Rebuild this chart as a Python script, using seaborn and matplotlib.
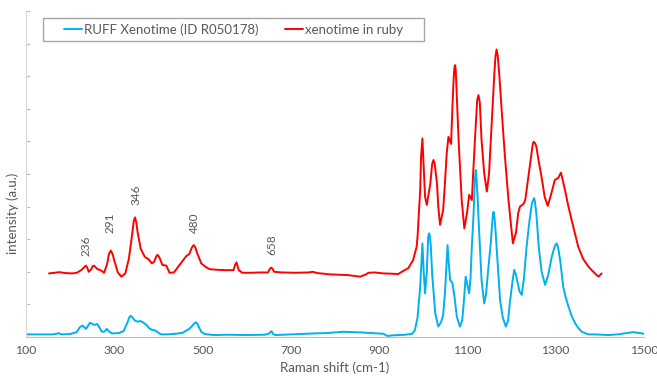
import numpy as np
import pandas as pd
import matplotlib
matplotlib.use("Agg")
import matplotlib.pyplot as plt
from matplotlib.patches import Rectangle
from matplotlib.ticker import FixedLocator
import seaborn as sns

# ---- data ----
ruff_x = [100, 130, 160, 170, 174, 180, 200, 215, 222, 228, 236, 245, 250, 255, 261, 266, 272, 278, 283, 288,
          295, 310, 321, 330, 334, 337, 340, 342, 347, 353, 359, 366, 373, 379, 385, 390, 394, 400, 406, 420, 440, 455,
          470, 480, 483, 485, 488, 490, 497, 505, 525, 560, 600, 640, 650, 656, 660, 665, 700, 753, 780, 819, 860, 895,
          909, 919, 930, 960, 975, 981, 987, 993, 998, 1001, 1004, 1008, 1011, 1013, 1015, 1017, 1020, 1027, 1034, 1040,
          1045, 1049, 1055, 1058, 1061, 1066, 1071, 1076, 1083, 1088, 1091, 1096, 1100, 1104, 1107, 1110, 1114,
          1117, 1119, 1121, 1123, 1126, 1132, 1138, 1142, 1147, 1153, 1157, 1159, 1161, 1163, 1166, 1170, 1174, 1180, 1187, 1192, 1196,
          1202, 1206, 1210, 1214, 1218, 1223, 1228, 1234, 1240, 1246, 1249, 1251, 1253, 1256, 1262, 1268, 1276, 1283, 1291,
          1297, 1300, 1302, 1304, 1306, 1310, 1317, 1323, 1329, 1336, 1344, 1351, 1359, 1374, 1389, 1405, 1420, 1440, 1460,
          1476, 1490, 1500]
ruff_y = [0.08, 0.08, 0.08, 0.10, 0.12, 0.08, 0.09, 0.15, 0.30, 0.35, 0.25, 0.44, 0.40, 0.37, 0.40, 0.30, 0.16, 0.17, 0.25, 0.17,
          0.11, 0.12, 0.18, 0.45, 0.60, 0.65, 0.62, 0.58, 0.50, 0.47, 0.49, 0.44, 0.37, 0.27, 0.22, 0.21, 0.19, 0.13, 0.08, 0.08, 0.10, 0.13,
          0.25, 0.40, 0.44, 0.45, 0.42, 0.35, 0.16, 0.09, 0.06, 0.07, 0.06, 0.07, 0.10, 0.18, 0.09, 0.06, 0.08, 0.11, 0.12, 0.16, 0.14, 0.11,
          0.10, 0.03, 0.05, 0.07, 0.10, 0.21, 0.60, 1.54, 2.87, 2.00, 1.34, 2.00, 3.05, 3.18, 3.10, 2.80, 1.95, 0.73, 0.32, 0.45,
          0.67, 1.35, 2.82, 2.20, 1.75, 1.65, 1.20, 0.62, 0.32, 0.50, 0.93, 1.85, 1.60, 1.34, 1.80, 2.77, 3.80,
          4.85, 5.12, 4.80, 4.30, 3.38, 1.75, 1.03, 1.30, 2.06, 2.90, 3.65, 3.84, 3.70, 3.40, 2.77, 1.90, 1.13, 0.60, 0.32, 0.50, 1.04,
          1.70, 2.06, 1.90, 1.65, 1.40, 1.29, 1.80, 2.77, 3.50, 4.10, 4.20, 4.26, 4.15, 3.80, 2.70, 2.00, 1.60, 1.90, 2.46,
          2.75, 2.84, 2.87, 2.82, 2.70, 2.36, 1.54, 1.20, 0.93, 0.65, 0.42, 0.28, 0.16, 0.08, 0.08, 0.07, 0.06, 0.08, 0.12,
          0.15, 0.12, 0.10]

ruby_x = [152, 165, 175, 190, 205, 215, 225, 233, 236, 239, 242, 248, 251, 254, 257, 262, 269, 277, 284, 288, 292, 296, 300, 308, 316, 325,
          333, 340, 344, 347, 350, 353, 360, 369, 378, 385, 390, 395, 398, 401, 404, 409, 414, 418, 425, 435, 449, 463, 470, 476, 480,
          484, 487, 497, 507, 516, 535, 555, 570, 574, 577, 580, 582, 590, 610, 630, 648, 653, 656, 659, 662, 680, 710, 740, 750, 760,
          790, 829, 845, 857, 870, 876, 890, 910, 930, 943, 955, 966, 977, 985, 987, 990, 993, 995, 998, 1001,
          1004, 1008, 1016, 1020, 1023, 1026, 1031, 1034, 1038, 1045, 1049, 1053, 1057, 1063, 1066, 1069, 1070.5, 1072, 1073.5, 1076, 1080,
          1087, 1093, 1099, 1104, 1110, 1113, 1117, 1122, 1125, 1128, 1132, 1138, 1144, 1149, 1155, 1161, 1163.5, 1166, 1168.5, 1172, 1178,
          1185, 1193, 1203, 1210, 1215, 1219, 1227, 1231, 1238, 1245, 1248, 1250, 1253, 1256, 1261, 1268, 1275, 1282, 1290,
          1298, 1305, 1312, 1316, 1321, 1328, 1336, 1344, 1351, 1362, 1374, 1385, 1397, 1404]
ruby_y = [1.95, 1.97, 1.99, 1.96, 1.95, 1.97, 2.05, 2.15, 2.19, 2.12, 2.00, 2.08, 2.17, 2.19, 2.15, 2.08, 2.05, 1.97, 2.25, 2.55, 2.65, 2.55, 2.35, 1.98, 1.85, 1.95,
          2.40, 3.10, 3.55, 3.67, 3.50, 3.20, 2.70, 2.46, 2.38, 2.26, 2.30, 2.47, 2.52, 2.47, 2.38, 2.21, 2.20, 2.19, 1.97, 1.98, 2.23, 2.48, 2.55, 2.75, 2.82,
          2.74, 2.60, 2.26, 2.15, 2.08, 2.06, 2.05, 2.05, 2.22, 2.29, 2.15, 2.05, 1.97, 1.97, 1.98, 1.98, 2.10, 2.13, 2.08, 2.00, 1.98, 1.97, 1.98, 2.00, 1.96,
          1.92, 1.90, 1.87, 1.85, 1.92, 1.97, 1.98, 1.95, 1.94, 1.93, 2.03, 2.11, 2.36, 2.77, 3.08, 3.80, 4.50, 5.53, 6.09, 5.22,
          4.30, 4.05, 4.71, 5.30, 5.43, 5.30, 4.71, 4.00, 3.44, 3.90, 4.71, 5.63, 6.14, 5.92, 7.06, 7.98, 8.25, 8.34, 8.20, 7.40, 6.04,
          4.20, 3.33, 3.80, 4.36, 4.20, 5.02, 6.04, 7.25, 7.42, 7.20, 6.04, 5.02, 4.46, 5.02, 6.55, 8.09, 8.60, 8.82, 8.65, 8.09, 6.86,
          5.53, 4.20, 2.87, 3.20, 3.80, 4.00, 4.08, 4.20, 4.90, 5.60, 5.92, 5.99, 5.95, 5.85, 5.43, 4.90, 4.30, 4.02, 4.40,
          4.82, 4.87, 5.04, 4.80, 4.51, 4.05, 3.59, 3.15, 2.77, 2.40, 2.16, 2.00, 1.85, 1.95]

peak_labels = ["236", "291", "346", "480", "658"]
label_x = [236, 291, 349, 481, 658]
label_y = [2.50, 3.20, 4.05, 3.18, 2.52]

x_ticks = [100, 300, 500, 700, 900, 1100, 1300, 1500]

series_names = ["RUFF Xenotime (ID R050178)", "xenotime in ruby"]
series_colors = ["#00B0F0", "#FF0000"]

# ---- drawing ----
sns.set_style("white")
plt.rcParams['font.family'] = ['Lato', 'DejaVu Sans']
TXT = "#595959"

fig = plt.figure(figsize=(6.57, 3.81), dpi=100)
ax = fig.add_axes([26 / 657, 44 / 381, 618 / 657, 326 / 381])

df_ruff = pd.DataFrame({"shift": ruff_x, "intensity": ruff_y})
df_ruby = pd.DataFrame({"shift": ruby_x, "intensity": ruby_y})
sns.lineplot(data=df_ruff, x="shift", y="intensity", ax=ax, color=series_colors[0],
             lw=1.4, sort=False, estimator=None, label=series_names[0])
sns.lineplot(data=df_ruby, x="shift", y="intensity", ax=ax, color=series_colors[1],
             lw=1.4, sort=False, estimator=None, label=series_names[1])

for t, xv, yv in zip(peak_labels, label_x, label_y):
    ax.text(xv, yv, t, rotation=90, ha="center", va="bottom", color=TXT, fontsize=8.5)

ax.set_xlim(100, 1500)
ax.set_ylim(0, 10)
ax.set_xticks(x_ticks)
ax.xaxis.set_minor_locator(FixedLocator(np.arange(100, 1501, 40)))
ax.set_yticks(np.arange(0, 11, 1))
ax.tick_params(axis="x", which="both", direction="out", length=3, width=0.8,
               color="#BFBFBF", labelcolor=TXT, labelsize=8.8, pad=3)
ax.tick_params(axis="y", which="both", direction="in", length=3, width=0.8,
               color="#BFBFBF", labelleft=False, left=True)
for s in ["top", "right"]:
    ax.spines[s].set_visible(False)
ax.spines["left"].set_color("#D9D9D9")
ax.spines["bottom"].set_color("#BFBFBF")
ax.spines["left"].set_linewidth(0.8)
ax.spines["bottom"].set_linewidth(0.8)

ax.set_xlabel("Raman shift (cm-1)", color=TXT, fontsize=9.5, labelpad=4)
ax.set_ylabel("intensity (a.u.)", color=TXT, fontsize=9.5)
ax.yaxis.set_label_coords(-0.012, 0.38)

# legend box
rect = Rectangle(((43 - 26) / 618, (337 - 41) / 326), 381 / 618, 23 / 326,
                 transform=ax.transAxes, facecolor="white", edgecolor="#A6A6A6",
                 lw=1.0, zorder=5)
ax.add_patch(rect)
leg = ax.legend(loc="center", bbox_to_anchor=((233.5 - 26) / 618, (337 - 29.5) / 326),
                ncol=2, frameon=False, fontsize=9.5, handlelength=1.4,
                handletextpad=0.15, columnspacing=2.0, borderaxespad=0)
for txt in leg.get_texts():
    txt.set_color(TXT)
leg.set_zorder(6)

fig.savefig("out.png", dpi=100)
